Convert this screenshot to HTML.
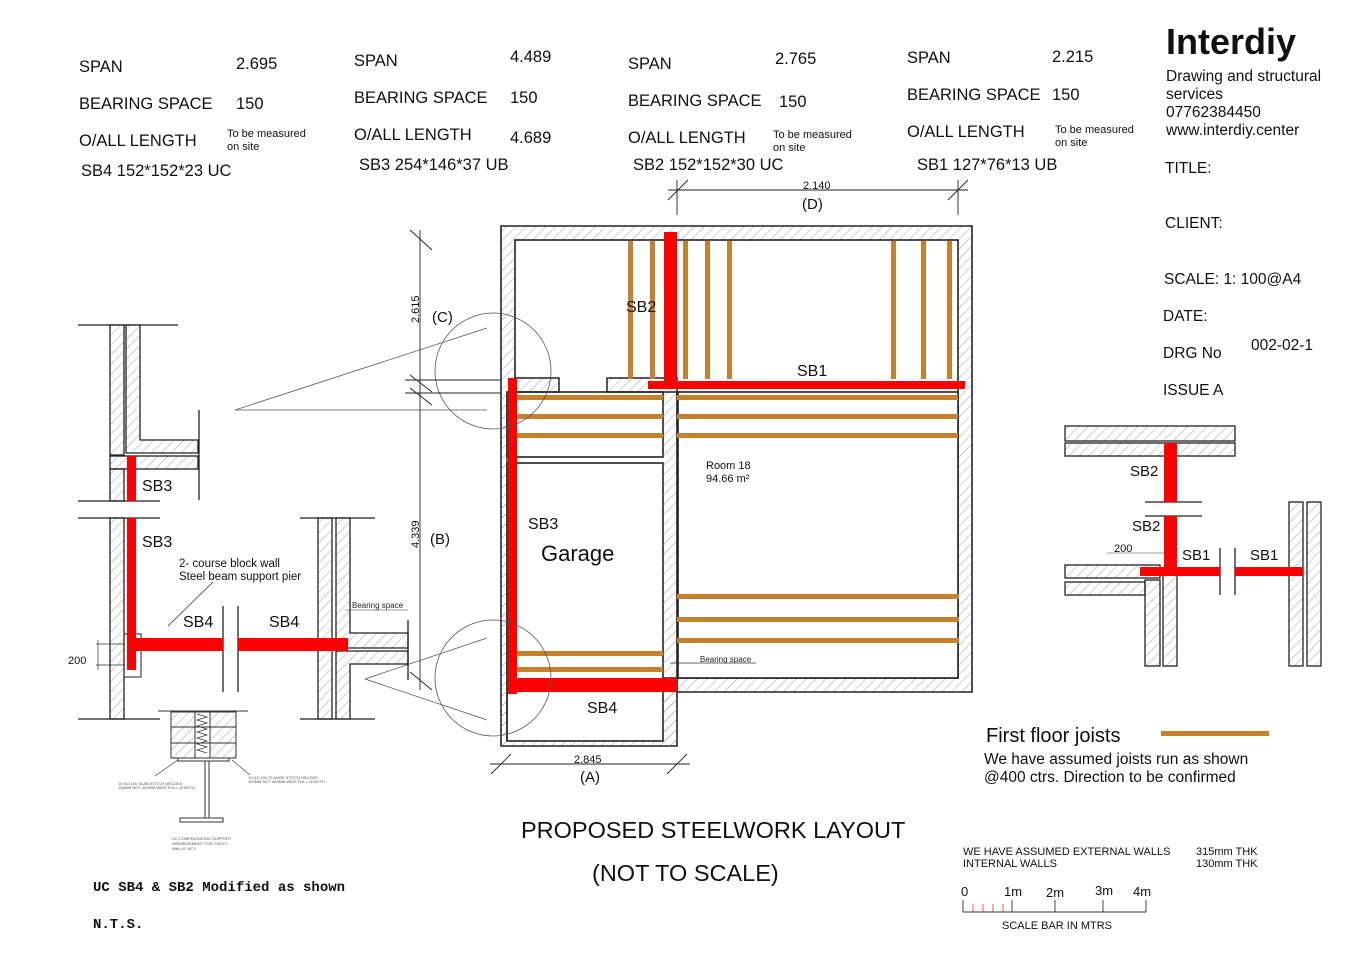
<!DOCTYPE html>
<html><head><meta charset="utf-8"><style>
html,body{margin:0;padding:0;background:#fff;}
svg{display:block;font-family:"Liberation Sans",sans-serif;}
</style></head><body>
<svg width="1366" height="957" viewBox="0 0 1366 957" xmlns="http://www.w3.org/2000/svg">
<defs>
<pattern id="h" patternUnits="userSpaceOnUse" width="7" height="7" patternTransform="rotate(45)">
<line x1="0" y1="0" x2="0" y2="7" stroke="#999" stroke-width="0.9"/>
</pattern>
</defs>
<rect width="1366" height="957" fill="#fff"/>

<!-- header specs -->
<g font-size="16.5" fill="#111" xml:space="preserve">
<text x="79" y="72">SPAN</text><text x="236" y="69">2.695</text>
<text x="79" y="109">BEARING SPACE</text><text x="236" y="109">150</text>
<text x="79" y="146">O/ALL LENGTH</text>
<text x="81" y="176">SB4  152*152*23 UC</text>
<text x="354" y="66">SPAN</text><text x="510" y="62">4.489</text>
<text x="354" y="103">BEARING SPACE</text><text x="510" y="103">150</text>
<text x="354" y="140">O/ALL LENGTH</text><text x="510" y="143">4.689</text>
<text x="359" y="170">SB3  254*146*37 UB</text>
<text x="628" y="69">SPAN</text><text x="775" y="64">2.765</text>
<text x="628" y="106">BEARING SPACE</text><text x="779" y="107">150</text>
<text x="628" y="143">O/ALL LENGTH</text>
<text x="633" y="170">SB2  152*152*30 UC</text>
<text x="907" y="63">SPAN</text><text x="1052" y="62">2.215</text>
<text x="907" y="100">BEARING SPACE</text><text x="1052" y="100">150</text>
<text x="907" y="137">O/ALL LENGTH</text>
<text x="917" y="170">SB1  127*76*13 UB</text>
</g>
<g font-size="11" fill="#111">
<text x="227" y="137">To be measured</text><text x="227" y="150">on site</text>
<text x="773" y="138">To be measured</text><text x="773" y="151">on site</text>
<text x="1055" y="133">To be measured</text><text x="1055" y="146">on site</text>
</g>

<!-- title block -->
<text x="1166" y="54" font-size="36" font-weight="bold" fill="#111">Interdiy</text>
<g font-size="15.5" fill="#111" xml:space="preserve">
<text x="1166" y="81">Drawing and structural</text>
<text x="1166" y="99">services</text>
<text x="1166" y="117">07762384450</text>
<text x="1166" y="135">www.interdiy.center</text>
<text x="1165" y="173">TITLE:</text>
<text x="1165" y="228">CLIENT:</text>
<text x="1164" y="284">SCALE: 1: 100@A4</text>
<text x="1163" y="321">DATE:</text>
<text x="1163" y="358">DRG No</text><text x="1251" y="350">002-02-1</text>
<text x="1163" y="395">ISSUE  A</text>
</g>

<!-- MAIN PLAN walls -->
<path d="M501,226 H972 V692 H677 V746 H501 Z M515,240 V378 H958 V678 H677 V463 H663 V741 H507 V392 H515 Z" fill="url(#h)" fill-rule="evenodd" stroke="none"/>
<path d="M501,226 H972 V692 H677 V746 H501 Z" fill="none" stroke="#222" stroke-width="1.6"/>
<rect x="515" y="240" width="443" height="438" fill="#fff" stroke="#222" stroke-width="1.6"/>
<rect x="507" y="392" width="156" height="65" fill="#fff" stroke="#222" stroke-width="1.6"/>
<rect x="507" y="463" width="156" height="278" fill="#fff" stroke="#222" stroke-width="1.6"/>
<rect x="663" y="392" width="14" height="354" fill="url(#h)" stroke="none"/>
<line x1="677" y1="392" x2="677" y2="692" stroke="#222" stroke-width="1.6"/>
<rect x="515" y="378" width="44" height="14" fill="url(#h)" stroke="#222" stroke-width="1.5"/>
<rect x="607" y="378" width="70" height="14" fill="url(#h)" stroke="#222" stroke-width="1.5"/>
<rect x="501" y="392" width="6" height="354" fill="url(#h)"/>
<line x1="507" y1="392" x2="507" y2="741" stroke="#222" stroke-width="1.4"/>
<rect x="678" y="392" width="280" height="286" fill="#fff" stroke="#222" stroke-width="1.6"/>

<!-- joists -->
<g fill="#c5812e">
<rect x="628" y="241" width="5" height="138"/><rect x="650" y="241" width="5" height="138"/>
<rect x="683" y="241" width="5" height="138"/><rect x="705" y="241" width="5" height="138"/>
<rect x="727" y="241" width="5" height="138"/><rect x="891" y="241" width="5" height="138"/>
<rect x="921" y="241" width="5" height="138"/><rect x="947" y="241" width="5" height="138"/>
<rect x="515" y="395" width="148" height="5"/><rect x="515" y="414" width="148" height="5"/><rect x="515" y="433" width="148" height="5"/>
<rect x="677" y="395" width="281" height="5"/><rect x="677" y="414" width="281" height="5"/><rect x="677" y="433" width="281" height="5"/>
<rect x="677" y="594" width="282" height="5"/><rect x="677" y="617" width="282" height="5"/><rect x="677" y="638" width="282" height="5"/>
<rect x="515" y="651" width="148" height="5"/><rect x="515" y="667" width="148" height="5"/>
</g>
<!-- steel -->
<g fill="#f00">
<rect x="664" y="232" width="13" height="155"/>
<rect x="648" y="381" width="317" height="8"/>
<rect x="508" y="378" width="9" height="316"/>
<rect x="510" y="678" width="167" height="14"/>
</g>
<g font-size="16" fill="#111">
<text x="626" y="312">SB2</text>
<text x="797" y="376">SB1</text>
<text x="528" y="529">SB3</text>
<text x="587" y="713">SB4</text>
</g>
<text x="541" y="561" font-size="22" fill="#111">Garage</text>
<text x="706" y="469" font-size="11" fill="#111">Room 18</text>
<text x="706" y="482" font-size="11" fill="#111">94.66 m²</text>
<text x="700" y="662" font-size="8" fill="#222">Bearing space</text>
<line x1="670" y1="663" x2="756" y2="663" stroke="#333" stroke-width="0.7"/>

<!-- door circles & callouts -->
<g fill="none" stroke="#555" stroke-width="0.8">
<circle cx="493" cy="371" r="58"/>
<circle cx="493" cy="678" r="58"/>
<line x1="235" y1="410" x2="487" y2="328"/>
<line x1="235" y1="410" x2="487" y2="410"/>
<line x1="365" y1="679" x2="487" y2="638"/>
<line x1="365" y1="679" x2="487" y2="720"/>
</g>

<!-- dimensions -->
<g stroke="#222" stroke-width="0.9" fill="none">
<line x1="420" y1="230" x2="420" y2="690"/>
<line x1="410" y1="230" x2="432" y2="250"/>
<line x1="410" y1="375" x2="432" y2="392"/>
<line x1="410" y1="388" x2="432" y2="405"/>
<line x1="410" y1="672" x2="432" y2="690"/>
<line x1="405" y1="380" x2="500" y2="380"/>
<line x1="405" y1="393" x2="500" y2="393"/>
<line x1="668" y1="190" x2="968" y2="190"/>
<line x1="668" y1="200" x2="688" y2="180"/>
<line x1="948" y1="200" x2="968" y2="180"/>
<line x1="677" y1="180" x2="677" y2="215"/>
<line x1="958" y1="180" x2="958" y2="215"/>
<line x1="490" y1="764" x2="690" y2="764"/>
<line x1="491" y1="774" x2="511" y2="754"/>
<line x1="667" y1="774" x2="687" y2="754"/>
</g>
<g fill="#111">
<text x="0" y="0" font-size="11" transform="translate(419,323) rotate(-90)">2.615</text>
<text x="0" y="0" font-size="11" transform="translate(419,548) rotate(-90)">4.339</text>
<text x="432" y="322" font-size="15">(C)</text>
<text x="430" y="544" font-size="15">(B)</text>
<text x="803" y="189" font-size="11">2.140</text>
<text x="802" y="209" font-size="15">(D)</text>
<text x="574" y="763" font-size="11">2.845</text>
<text x="580" y="782" font-size="15">(A)</text>
</g>

<!-- LEFT DETAIL -->
<g stroke="#222" stroke-width="1.3">
<line x1="78" y1="325" x2="178" y2="325"/>
<path d="M110,325 H124 V455 H110 Z" fill="url(#h)"/>
<path d="M126,325 H140 V440 H198 V453 H126 Z" fill="url(#h)"/>
<rect x="110" y="456" width="88" height="13" fill="url(#h)"/>
<rect x="110" y="469" width="14" height="32" fill="url(#h)"/>
<line x1="199" y1="410" x2="199" y2="500"/>
<line x1="78" y1="501" x2="160" y2="501"/>
<line x1="78" y1="518" x2="160" y2="518"/>
<rect x="110" y="518" width="14" height="201" fill="url(#h)"/>
<line x1="78" y1="719" x2="160" y2="719"/>
<rect x="124" y="634" width="17" height="43" fill="none" stroke-width="1"/>
<line x1="300" y1="518" x2="375" y2="518"/>
<line x1="300" y1="719" x2="375" y2="719"/>
<rect x="318" y="518" width="14" height="201" fill="url(#h)"/>
<path d="M336,518 H350 V633 H408 V648 H336 Z" fill="url(#h)"/>
<path d="M336,651 H408 V664 H350 V719 H336 Z" fill="url(#h)"/>
<line x1="223" y1="606" x2="223" y2="692"/>
<line x1="238" y1="606" x2="238" y2="692"/>
<line x1="408" y1="620" x2="408" y2="680"/>
</g>
<g fill="#f00">
<rect x="127" y="456" width="9" height="45"/>
<rect x="127" y="518" width="9" height="152"/>
<rect x="127" y="638" width="96" height="13"/>
<rect x="238" y="638" width="110" height="13"/>
</g>
<g font-size="16" fill="#111">
<text x="142" y="491">SB3</text>
<text x="142" y="547">SB3</text>
<text x="183" y="627">SB4</text>
<text x="269" y="627">SB4</text>
</g>
<text x="179" y="567" font-size="11.5" fill="#111">2- course block wall</text>
<text x="179" y="580" font-size="11.5" fill="#111">Steel beam support pier</text>
<line x1="168" y1="626" x2="213" y2="582" stroke="#333" stroke-width="0.8"/>
<text x="352" y="608" font-size="8" fill="#222">Bearing space</text>
<line x1="345" y1="610" x2="408" y2="610" stroke="#333" stroke-width="0.6"/>
<text x="68" y="664" font-size="11" fill="#111">200</text>
<g stroke="#333" stroke-width="0.7"><line x1="96" y1="644" x2="125" y2="644"/><line x1="96" y1="665" x2="125" y2="665"/><line x1="98" y1="640" x2="98" y2="670"/></g>
<!-- pier / I-beam -->
<g stroke="#333" stroke-width="1">
<line x1="158" y1="711" x2="248" y2="711"/>
<rect x="171" y="712" width="65" height="46" fill="url(#h)"/>
<rect x="195" y="712" width="15" height="46" fill="#fff"/>
<path d="M197,714 l10,3 l-10,3 l10,3 l-10,3 l10,3 l-10,3 l10,3 l-10,3 l10,3 l-10,3 l10,3 l-10,3 l10,3" fill="none" stroke-width="0.7"/>
<line x1="171" y1="727" x2="236" y2="727"/><line x1="171" y1="743" x2="236" y2="743"/>
<rect x="178" y="758" width="51" height="3" fill="#fff"/>
<line x1="205" y1="761" x2="205" y2="818"/><line x1="209" y1="761" x2="209" y2="818"/>
<rect x="180" y="818" width="43" height="4" fill="#fff"/>
<line x1="155" y1="776" x2="178" y2="760" stroke-width="0.6"/>
<line x1="250" y1="775" x2="232" y2="760" stroke-width="0.6"/>
</g>
<g font-size="4" fill="#555">
<text x="118" y="785">10 NO 100 SLAB STITCH WELDED</text><text x="118" y="789">100MM NOT 400MM WIDE FULL LENGTH</text>
<text x="248" y="779">10 NO 100 FLANGE STITCH WELDED</text><text x="248" y="783">100MM NOT 400MM WIDE FULL LENGTH</text>
<text x="172" y="840">UC COMPENSATING SUPPORT</text><text x="172" y="845">ARRANGEMENT FOR CAVITY</text><text x="172" y="850">WALLS.    NTS</text>
</g>
<text x="93" y="891" font-family="Liberation Mono, monospace" font-size="14" font-weight="bold" fill="#111">UC SB4 &amp; SB2 Modified as shown</text>
<text x="93" y="928" font-family="Liberation Mono, monospace" font-size="14" font-weight="bold" fill="#111">N.T.S.</text>

<!-- RIGHT DETAIL -->
<g stroke="#222" stroke-width="1.3">
<rect x="1065" y="426" width="170" height="15" fill="url(#h)"/>
<rect x="1065" y="443" width="170" height="13" fill="url(#h)"/>
<line x1="1145" y1="502" x2="1202" y2="502"/>
<line x1="1145" y1="516" x2="1202" y2="516"/>
<rect x="1065" y="565" width="95" height="13" fill="url(#h)"/>
<rect x="1065" y="582" width="80" height="13" fill="url(#h)"/>
<rect x="1145" y="580" width="15" height="86" fill="url(#h)"/>
<rect x="1163" y="570" width="14" height="96" fill="url(#h)"/>
<line x1="1220" y1="548" x2="1220" y2="595"/>
<line x1="1235" y1="548" x2="1235" y2="595"/>
<rect x="1289" y="502" width="14" height="164" fill="url(#h)"/>
<rect x="1307" y="502" width="14" height="164" fill="url(#h)"/>
</g>
<g fill="#f00">
<rect x="1164" y="443" width="13" height="59"/>
<rect x="1164" y="516" width="13" height="58"/>
<rect x="1140" y="567" width="80" height="9"/>
<rect x="1235" y="567" width="68" height="9"/>
</g>
<g font-size="15" fill="#111">
<text x="1130" y="476">SB2</text>
<text x="1132" y="531">SB2</text>
<text x="1182" y="560">SB1</text>
<text x="1250" y="560">SB1</text>
</g>
<text x="1114" y="552" font-size="11" fill="#111">200</text>
<line x1="1107" y1="553" x2="1165" y2="553" stroke="#333" stroke-width="0.6"/>

<!-- notes -->
<text x="986" y="742" font-size="20" fill="#111">First floor joists</text>
<rect x="1161" y="731" width="108" height="5" fill="#c5812e"/>
<text x="984" y="764" font-size="15.5" fill="#111">We have assumed joists run as shown</text>
<text x="984" y="782" font-size="15.5" fill="#111">@400 ctrs. Direction to be confirmed</text>
<text x="521" y="838" font-size="23.5" fill="#111">PROPOSED STEELWORK LAYOUT</text>
<text x="592" y="881" font-size="23.5" fill="#111">(NOT TO SCALE)</text>
<g font-size="11" fill="#111" xml:space="preserve">
<text x="963" y="855">WE HAVE ASSUMED EXTERNAL WALLS</text><text x="1196" y="855">315mm THK</text>
<text x="963" y="867">INTERNAL WALLS</text><text x="1196" y="867">130mm  THK</text>
<text x="1002" y="929">SCALE BAR IN MTRS</text>
</g>
<g font-size="13" fill="#111">
<text x="961" y="896">0</text><text x="1004" y="896">1m</text><text x="1046" y="897">2m</text><text x="1095" y="895">3m</text><text x="1133" y="896">4m</text>
</g>
<g stroke="#333" stroke-width="0.9">
<line x1="963" y1="912" x2="1146" y2="912"/>
<line x1="963" y1="900" x2="963" y2="912"/><line x1="1012" y1="900" x2="1012" y2="912"/>
<line x1="1055" y1="900" x2="1055" y2="912"/><line x1="1103" y1="900" x2="1103" y2="912"/><line x1="1146" y1="900" x2="1146" y2="912"/>
</g>
<g stroke="#e33" stroke-width="0.8">
<line x1="973" y1="904" x2="973" y2="912"/><line x1="983" y1="904" x2="983" y2="912"/><line x1="993" y1="904" x2="993" y2="912"/><line x1="1003" y1="904" x2="1003" y2="912"/>
</g>
</svg>
</body></html>
